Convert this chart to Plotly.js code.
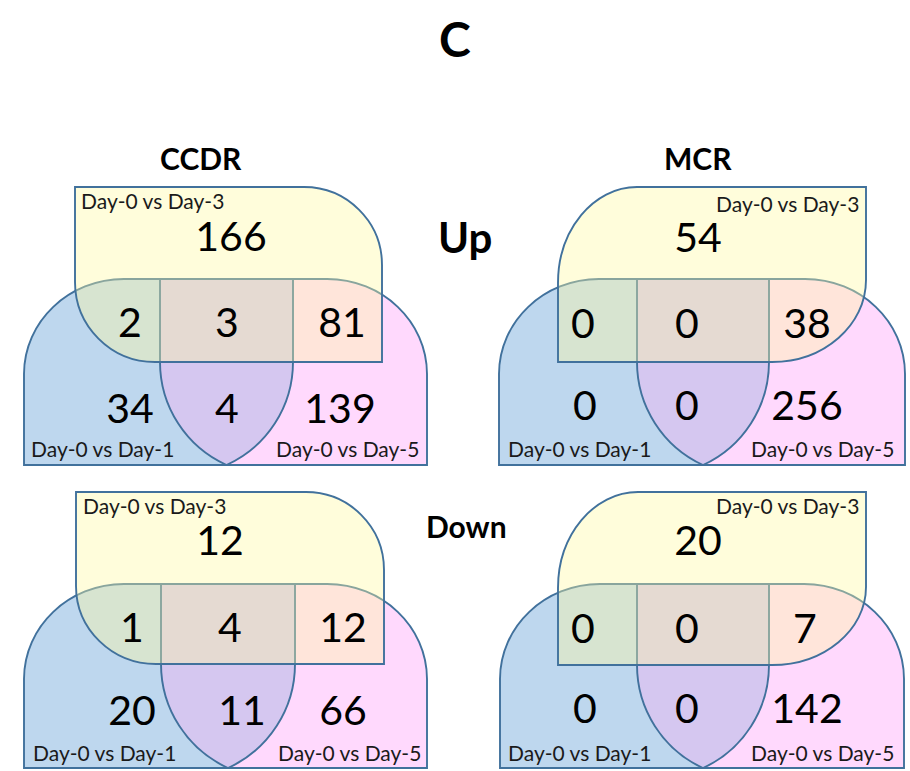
<!DOCTYPE html>
<html>
<head>
<meta charset="utf-8">
<script src="https://cdn.plot.ly/plotly-3.0.1.min.js"></script>
<style>html,body{margin:0;padding:0;background:#fff;}#chart{width:910px;height:771px;}</style>
</head>
<body>
<div id="chart"></div>
<script>
// ---- data ----
const regionNames = ["D3 only", "D1∩D3", "D1∩D3∩D5", "D3∩D5", "D1 only", "D1∩D5", "D5 only"];
const ccdrUp   = [166, 2, 3, 81, 34, 4, 139];
const mcrUp    = [54, 0, 0, 38, 0, 0, 256];
const ccdrDown = [12, 1, 4, 12, 20, 11, 66];
const mcrDown  = [20, 0, 0, 7, 0, 0, 142];
const setLabels = ["Day-0 vs Day-1", "Day-0 vs Day-3", "Day-0 vs Day-5"];
const groupTitles = ["CCDR", "MCR"];
const rowTitles = ["Up", "Down"];
const figTitle = "C";

// ---- layout geometry (pixel-like data coords) ----
const panels = [
  {vals: ccdrUp, x0:24, cL:160, cR:293, x1:427, yL:75, yR:382, yT:187, bT:279, bB:362, bot:465, mir:false, rt:[78,78], rb:[80,80],
   nx:[231,130,227,342,130,227,340], ny:[241,327,327,327,413,413,413],
   d3:{x:79,y:200,a:"left"}, d1:{x:29,y:448}, d5:{x:421,y:448}},
  {vals: mcrUp, x0:499, cL:637, cR:769, x1:905, yL:558, yR:866, yT:187, bT:279, bB:362, bot:465, mir:true, rt:[79,96], rb:[94,82],
   nx:[698,583,687,807,585,687,807], ny:[242,328,328,328,410,410,410],
   d3:{x:861,y:203,a:"right"}, d1:{x:506,y:448}, d5:{x:896,y:448}},
  {vals: ccdrDown, x0:24, cL:161, cR:295, x1:427, yL:76, yR:384, yT:492, bT:584, bB:664, bot:768, mir:false, rt:[78,78], rb:[80,78],
   nx:[220,132,230,343,132,242,343], ny:[545,632,632,632,715,715,715],
   d3:{x:81,y:505,a:"left"}, d1:{x:31,y:752}, d5:{x:423,y:752}},
  {vals: mcrDown, x0:500, cL:637, cR:769, x1:904, yL:558, yR:866, yT:492, bT:584, bB:665, bot:768, mir:true, rt:[80,96], rb:[94,78],
   nx:[698,583,687,805,585,687,807], ny:[545,633,633,633,713,713,713],
   d3:{x:861,y:505,a:"right"}, d1:{x:506,y:752}, d5:{x:896,y:752}}
];

const K = 0.5523;
function arc(p0, c, p1) {
  const a = [p0[0] + K*(c[0]-p0[0]), p0[1] + K*(c[1]-p0[1])];
  const b = [p1[0] + K*(c[0]-p1[0]), p1[1] + K*(c[1]-p1[1])];
  return ` C ${a[0]},${a[1]} ${b[0]},${b[1]} ${p1[0]},${p1[1]}`;
}
// circular arc starting at p0 with vertical tangent, ending at p1 (center on the horizontal through p0)
function circArc(p0, p1, reverse) {
  const dx = p1[0]-p0[0], dy = p1[1]-p0[1];
  const s = Math.sign(dx);
  const R = (dx*dx + dy*dy) / (2*Math.abs(dx));
  const c = [p0[0] + s*R, p0[1]];
  const a0 = Math.atan2(p0[1]-c[1], p0[0]-c[0]);
  let a1 = Math.atan2(p1[1]-c[1], p1[0]-c[0]);
  let d = a1 - a0;
  while (d > Math.PI) d -= 2*Math.PI;
  while (d < -Math.PI) d += 2*Math.PI;
  const h = 4/3*Math.tan(Math.abs(d)/4)*R;
  const sg = Math.sign(d);
  const t0 = [-Math.sin(a0)*sg, Math.cos(a0)*sg];
  const t1 = [-Math.sin(a0+d)*sg, Math.cos(a0+d)*sg];
  let A = p0, B = [p0[0]+h*t0[0], p0[1]+h*t0[1]], C = [p1[0]-h*t1[0], p1[1]-h*t1[1]], D = p1;
  if (reverse) { [A,B,C,D] = [D,C,B,A]; }
  return ` C ${B[0]},${B[1]} ${C[0]},${C[1]} ${D[0]},${D[1]}`;
}
const RB = 100, RBY = 95;
function bluePath(p) {
  const mid = (p.cL + p.cR)/2;
  return `M ${p.x0},${p.bot} L ${p.x0},${p.bT+RBY}` + arc([p.x0,p.bT+RBY],[p.x0,p.bT],[p.x0+RB,p.bT]) +
    ` L ${p.cR},${p.bT} L ${p.cR},${p.bB}` + circArc([p.cR,p.bB],[mid,p.bot]) + ' Z';
}
function pinkPath(p) {
  const mid = (p.cL + p.cR)/2;
  return `M ${p.x1},${p.bot} L ${p.x1},${p.bT+RBY}` + arc([p.x1,p.bT+RBY],[p.x1,p.bT],[p.x1-RB,p.bT]) +
    ` L ${p.cL},${p.bT} L ${p.cL},${p.bB}` + circArc([p.cL,p.bB],[mid,p.bot]) + ' Z';
}
function overlapPath(p) {
  const mid = (p.cL + p.cR)/2;
  return `M ${p.cL},${p.bT} L ${p.cR},${p.bT} L ${p.cR},${p.bB}` + circArc([p.cR,p.bB],[mid,p.bot]) +
    circArc([p.cL,p.bB],[mid,p.bot], true) + ' Z';
}
function yellowPath(p) {
  if (!p.mir) {
    return `M ${p.yL},${p.yT} L ${p.yR-p.rt[0]},${p.yT}` + arc([p.yR-p.rt[0],p.yT],[p.yR,p.yT],[p.yR,p.yT+p.rt[1]]) +
      ` L ${p.yR},${p.bB} L ${p.yL+p.rb[0]},${p.bB}` + arc([p.yL+p.rb[0],p.bB],[p.yL,p.bB],[p.yL,p.bB-p.rb[1]]) + ' Z';
  }
  return `M ${p.yR},${p.yT} L ${p.yR},${p.bB-p.rb[1]}` + arc([p.yR,p.bB-p.rb[1]],[p.yR,p.bB],[p.yR-p.rb[0],p.bB]) +
    ` L ${p.yL},${p.bB} L ${p.yL},${p.yT+p.rt[1]}` + arc([p.yL,p.yT+p.rt[1]],[p.yL,p.yT],[p.yL+p.rt[0],p.yT]) + ' Z';
}

const EDGE = '#41719C';
const LW = 1.9;
const shapes = [];
panels.forEach(p => {
  const base = {type:'path', xref:'x', yref:'y', layer:'below'};
  shapes.push({...base, path: bluePath(p), fillcolor:'#BED7EE', line:{width:0}});
  shapes.push({...base, path: pinkPath(p), fillcolor:'#FFD9FD', line:{width:0}});
  shapes.push({...base, path: overlapPath(p), fillcolor:'#D5C7F0', line:{width:0}});
  shapes.push({...base, path: bluePath(p), fillcolor:'rgba(0,0,0,0)', line:{color:EDGE, width:LW}});
  shapes.push({...base, path: pinkPath(p), fillcolor:'rgba(0,0,0,0)', line:{color:EDGE, width:LW}});
  shapes.push({...base, path: yellowPath(p), fillcolor:'rgba(255,250,160,0.38)', line:{width:0}});
  shapes.push({...base, path: yellowPath(p), fillcolor:'rgba(0,0,0,0)', line:{color:EDGE, width:LW}});
});

const traces = panels.map(p => ({
  type:'scatter', mode:'text', x:p.nx, y:p.ny, text:p.vals.map(String),
  customdata: regionNames, hoverinfo:'none',
  textfont:{family:'Lato, "Open Sans", sans-serif', size:41, color:'#000'},
  textposition:'middle center', showlegend:false
}));

const labFont = {family:'Lato, "Open Sans", sans-serif', size:21, color:'#1a1a1a'};
const annotations = [];
panels.forEach(p => {
  annotations.push({x:p.d3.x, y:p.d3.y, xref:'x', yref:'y', text:setLabels[1], showarrow:false, xanchor:p.d3.a, yanchor:'middle', font:labFont});
  annotations.push({x:p.d1.x, y:p.d1.y, xref:'x', yref:'y', text:setLabels[0], showarrow:false, xanchor:'left', yanchor:'middle', font:labFont});
  annotations.push({x:p.d5.x, y:p.d5.y, xref:'x', yref:'y', text:setLabels[2], showarrow:false, xanchor:'right', yanchor:'middle', font:labFont});
});
const boldFont = (s) => ({family:'Lato, "Open Sans", sans-serif', size:s, color:'#000', weight:'bold'});
annotations.push({x:455, y:38, xref:'x', yref:'y', text:'<b>'+figTitle+'</b>', showarrow:false, font:boldFont(48)});
annotations.push({x:201, y:158, xref:'x', yref:'y', text:'<b>'+groupTitles[0]+'</b>', showarrow:false, font:boldFont(30)});
annotations.push({x:698, y:158, xref:'x', yref:'y', text:'<b>'+groupTitles[1]+'</b>', showarrow:false, font:boldFont(30)});
annotations.push({x:465, y:237, xref:'x', yref:'y', text:'<b>'+rowTitles[0]+'</b>', showarrow:false, font:boldFont(42)});
annotations.push({x:466, y:526, xref:'x', yref:'y', text:'<b>'+rowTitles[1]+'</b>', showarrow:false, font:boldFont(30)});

const layout = {
  width:910, height:771, margin:{l:0,r:0,t:0,b:0},
  paper_bgcolor:'#fff', plot_bgcolor:'rgba(0,0,0,0)',
  xaxis:{range:[0,910], visible:false, fixedrange:true},
  yaxis:{range:[771,0], visible:false, fixedrange:true},
  shapes: shapes, annotations: annotations, showlegend:false
};
Plotly.newPlot('chart', traces, layout, {staticPlot:true, displayModeBar:false});
</script>
</body>
</html>
